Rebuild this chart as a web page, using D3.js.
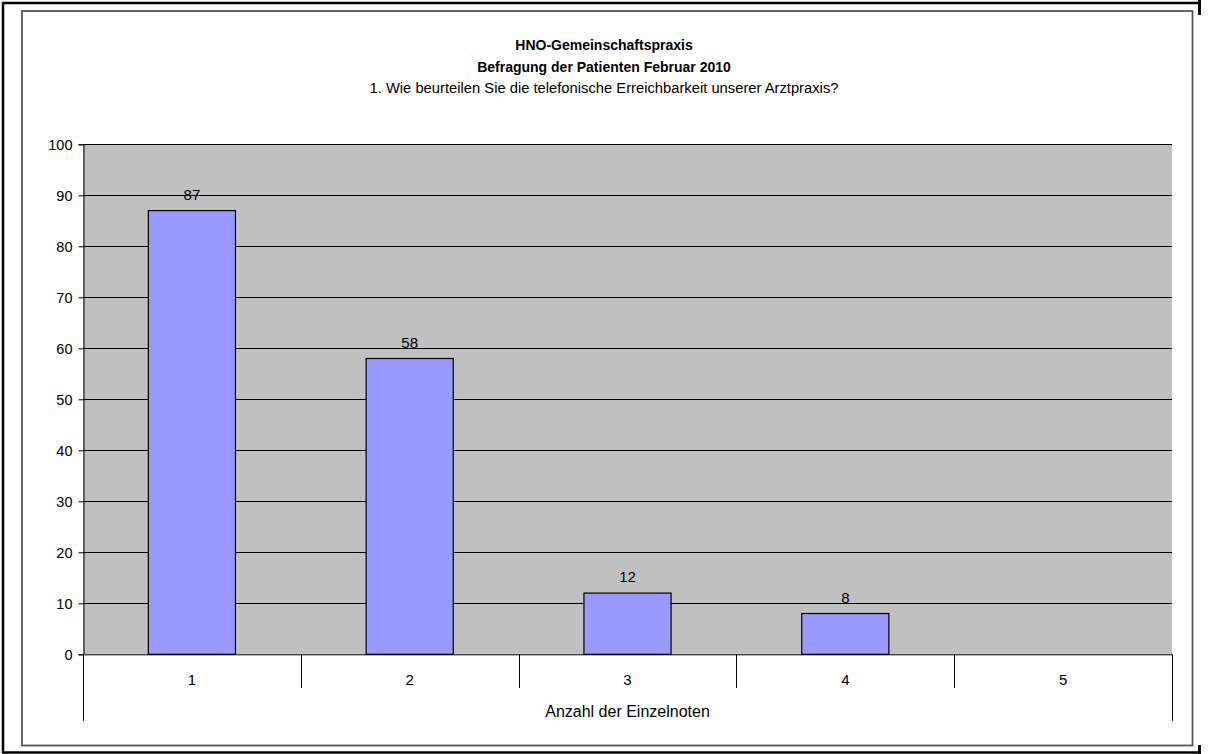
<!DOCTYPE html>
<html><head><meta charset="utf-8">
<script src="https://cdn.jsdelivr.net/npm/d3@7"></script>
<style>body{margin:0;background:#fff}svg{display:block}text{font-family:"Liberation Sans",Arial,sans-serif;fill:#000}</style>
</head><body>
<script>
const categories = ["1","2","3","4","5"];
const values = [87, 58, 12, 8, null];
const yTicks = [0,10,20,30,40,50,60,70,80,90,100];
const titleLines = ["HNO-Gemeinschaftspraxis","Befragung der Patienten Februar 2010","1. Wie beurteilen Sie die telefonische Erreichbarkeit unserer Arztpraxis?"];
const xAxisTitle = "Anzahl der Einzelnoten";

const W=1208,H=754;
const svg=d3.select("body").append("svg").attr("width",W).attr("height",H);

// outer black frame (partial on right side)
svg.append("line").attr("x1",3).attr("y1",3).attr("x2",1199).attr("y2",3).attr("stroke","#000").attr("stroke-width",2.5);
svg.append("line").attr("x1",3).attr("y1",2).attr("x2",3).attr("y2",753).attr("stroke","#000").attr("stroke-width",2.5);
svg.append("line").attr("x1",2).attr("y1",752.5).attr("x2",1200).attr("y2",752.5).attr("stroke","#000").attr("stroke-width",2.5);
svg.append("line").attr("x1",1199.5).attr("y1",0).attr("x2",1199.5).attr("y2",15).attr("stroke","#000").attr("stroke-width",3);
svg.append("line").attr("x1",1199.5).attr("y1",745).attr("x2",1199.5).attr("y2",754).attr("stroke","#000").attr("stroke-width",3);

// chart area border
svg.append("rect").attr("x",22).attr("y",11).attr("width",1170.5).attr("height",734.5)
  .attr("fill","#fff").attr("stroke","#555").attr("stroke-width",1.8);

const x0=83, x1=1172, yTop=144.3, yBot=654.3;
const x=d3.scaleBand().domain(categories).range([x0,x1]).paddingInner(0).paddingOuter(0);
const y=d3.scaleLinear().domain([0,100]).range([yBot,yTop]);

// plot area
svg.append("rect").attr("x",x0).attr("y",yTop).attr("width",x1-x0).attr("height",yBot-yTop).attr("fill","#c0c0c0");

// gridlines
svg.append("g").selectAll("line").data(yTicks.filter(d=>d>0)).join("line")
  .attr("x1",x0).attr("x2",x1).attr("y1",d=>Math.round(y(d))+0.5).attr("y2",d=>Math.round(y(d))+0.5)
  .attr("stroke","#000").attr("stroke-width",1);

// y axis
const yAxis=svg.append("g").attr("transform",`translate(${x0+0.5},0)`)
  .call(d3.axisLeft(y).tickValues(yTicks).tickSize(5).tickPadding(6).tickFormat(d3.format("d")));
yAxis.select(".domain").attr("stroke","#000");
yAxis.selectAll(".tick line").attr("stroke","#000");
yAxis.selectAll("text").style("font-size","14.5px").style("font-family",'"Liberation Sans",Arial,sans-serif').attr("fill","#000").attr("dy","0.36em");

// bars
const bw=x.bandwidth()*0.4;
const data=categories.map((c,i)=>({c,v:values[i]})).filter(d=>d.v!=null);
svg.append("g").selectAll("rect").data(data).join("rect")
  .attr("x",d=>x(d.c)+x.bandwidth()/2-bw/2).attr("y",d=>y(d.v))
  .attr("width",bw).attr("height",d=>yBot-y(d.v))
  .attr("fill","#9999ff").attr("stroke","#000").attr("stroke-width",1.2);

// value labels
svg.append("g").selectAll("text").data(data).join("text")
  .attr("x",d=>x(d.c)+x.bandwidth()/2).attr("y",d=>y(d.v)-11)
  .attr("text-anchor","middle").style("font-size","15px").text(d=>d.v);

// x axis baseline
svg.append("line").attr("x1",x0).attr("x2",x1).attr("y1",yBot+0.5).attr("y2",yBot+0.5).attr("stroke","#000");

// category separators
const bounds=d3.range(categories.length+1).map(i=>x0+i*x.step());
svg.append("g").selectAll("line").data(bounds).join("line")
  .attr("x1",d=>Math.round(d)+0.5).attr("x2",d=>Math.round(d)+0.5)
  .attr("y1",yBot).attr("y2",(d,i)=>(i===0||i===categories.length)?721:688)
  .attr("stroke","#000").attr("stroke-width",1);

// category labels
svg.append("g").selectAll("text").data(categories).join("text")
  .attr("x",d=>x(d)+x.bandwidth()/2).attr("y",685).attr("text-anchor","middle")
  .style("font-size","15px").text(d=>d);

svg.append("text").attr("x",(x0+x1)/2).attr("y",717).attr("text-anchor","middle")
  .style("font-size","16px").text(xAxisTitle);

// titles
const tb=[49.5,71.5,93];
const ts=["14px","14px","14.75px"];
svg.append("g").selectAll("text").data(titleLines).join("text")
  .attr("x",604).attr("y",(d,i)=>tb[i]).attr("text-anchor","middle")
  .style("font-size",(d,i)=>ts[i]).style("font-weight",(d,i)=>i<2?"bold":"normal").text(d=>d);
</script>
</body></html>
